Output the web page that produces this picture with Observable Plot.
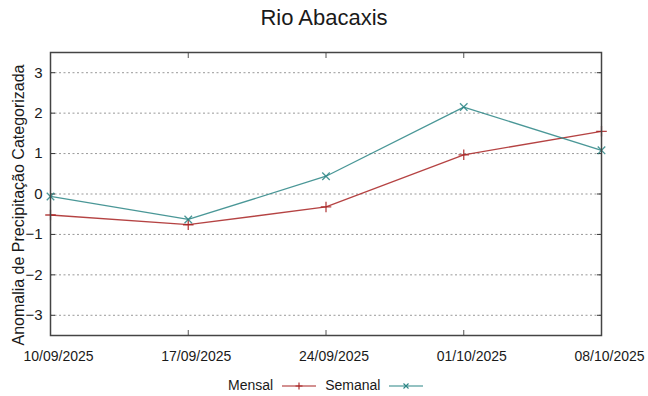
<!DOCTYPE html>
<html><head><meta charset="utf-8">
<script src="https://cdn.jsdelivr.net/npm/d3@7"></script>
<script src="https://cdn.jsdelivr.net/npm/@observablehq/plot@0.6"></script>
<style>
body{margin:0;background:#fff;}
#wrap{position:relative;width:648px;height:396px;font-family:"Liberation Sans",Arial,sans-serif;color:#1a1a1a;}
#title{position:absolute;left:0;top:7px;width:648px;text-align:center;font-size:22px;line-height:1;}
#ylab{position:absolute;left:18.5px;top:205px;transform:translate(-50%,-50%) rotate(-90deg);white-space:nowrap;font-size:16px;line-height:1;}
#legend{position:absolute;left:228px;top:377px;display:flex;align-items:center;font-size:14px;line-height:1;}
#legend span{display:inline-block;}
#legend svg{display:block;}
</style>
</head><body>
<div id="wrap">
  <div id="chart"></div>
  <div id="title"></div>
  <div id="ylab"></div>
  <div id="legend"></div>
</div>
<script>
const title = "Rio Abacaxis";
const yLabel = "Anomalia de Precipitação Categorizada";
const dates = ["2025-09-10","2025-09-17","2025-09-24","2025-10-01","2025-10-08"];
const mensal = [-0.52, -0.76, -0.32, 0.97, 1.55];
const semanal = [-0.06, -0.63, 0.44, 2.15, 1.08];
const yTicks = [-3, -2, -1, 0, 1, 2, 3];
const seriesNames = ["Mensal", "Semanal"];
const seriesColors = ["#a82222", "#2a8585"];
const seriesSymbols = ["plus", "times"];

const dateObjs = dates.map(d => new Date(d + "T00:00:00Z"));
const data = [];
[mensal, semanal].forEach((vals, si) => {
  vals.forEach((v, i) => data.push({series: seriesNames[si], date: dateObjs[i], value: v}));
});
const fmt = d3.utcFormat("%d/%m/%Y");

const plot = Plot.plot({
  width: 648,
  height: 396,
  marginLeft: 50,
  marginRight: 47,
  marginTop: 52,
  marginBottom: 61,
  style: {background: "white", fontFamily: "Liberation Sans, Arial, sans-serif"},
  x: {type: "utc", domain: [dateObjs[0], dateObjs[dateObjs.length - 1]]},
  y: {domain: [-3.5, 3.5]},
  color: {domain: seriesNames, range: seriesColors},
  symbol: {domain: seriesNames, range: seriesSymbols},
  marks: [
    Plot.gridY(yTicks, {stroke: "#999", strokeOpacity: 1, strokeDasharray: "2,2.5", strokeWidth: 1}),
    Plot.axisY(yTicks, {anchor: "left", tickSize: 0, tickPadding: 8, fontSize: 15, label: null, fill: "#1a1a1a"}),
    Plot.axisY(yTicks, {anchor: "left", tickSize: -5, tickFormat: () => "", label: null, stroke: "#333"}),
    Plot.axisY(yTicks, {anchor: "right", tickSize: -5, tickFormat: () => "", label: null, stroke: "#333"}),
    Plot.axisX(dateObjs, {anchor: "bottom", tickSize: 0, tickPadding: 16, dx: 8, tickFormat: fmt, fontSize: 14, fontFamily: "Liberation Sans Narrow, Liberation Sans, Arial, sans-serif", label: null, fill: "#1a1a1a"}),
    Plot.axisX(dateObjs, {anchor: "bottom", tickSize: -5, tickFormat: () => "", label: null, stroke: "#555"}),
    Plot.axisX(dateObjs, {anchor: "top", tickSize: -5, tickFormat: () => "", label: null, stroke: "#555"}),
    Plot.line(data, {x: "date", y: "value", z: "series", stroke: "series", strokeWidth: 1.3, strokeOpacity: 0.85}),
    Plot.dot(data, {x: "date", y: "value", stroke: "series", symbol: "series", r: 3.5, strokeWidth: 1.3, strokeOpacity: 0.85}),
    Plot.frame({stroke: "#444", strokeWidth: 1.5})
  ]
});
document.getElementById("chart").appendChild(plot);
document.getElementById("title").textContent = title;
document.getElementById("ylab").textContent = yLabel;

const legend = document.getElementById("legend");
seriesNames.forEach((name, i) => {
  const s = document.createElement("span");
  s.textContent = name;
  s.style.marginRight = "9px";
  legend.appendChild(s);
  const ns = "http://www.w3.org/2000/svg";
  const svg = document.createElementNS(ns, "svg");
  svg.setAttribute("width", 34);
  svg.setAttribute("height", 14);
  svg.style.marginRight = i === 0 ? "9px" : "0";
  svg.style.marginTop = "2px";
  const ln = document.createElementNS(ns, "line");
  ln.setAttribute("x1", 0); ln.setAttribute("x2", 34);
  ln.setAttribute("y1", 7); ln.setAttribute("y2", 7);
  ln.setAttribute("stroke", seriesColors[i]); ln.setAttribute("stroke-width", 1.2);
  svg.appendChild(ln);
  const p = document.createElementNS(ns, "path");
  p.setAttribute("d", seriesSymbols[i] === "plus" ? "M17,3.5V10.5M13.5,7H20.5" : "M14.5,4.5L19.5,9.5M19.5,4.5L14.5,9.5");
  p.setAttribute("stroke", seriesColors[i]); p.setAttribute("stroke-width", 1.1); p.setAttribute("fill", "none");
  svg.appendChild(p);
  legend.appendChild(svg);
});
</script>
</body></html>
